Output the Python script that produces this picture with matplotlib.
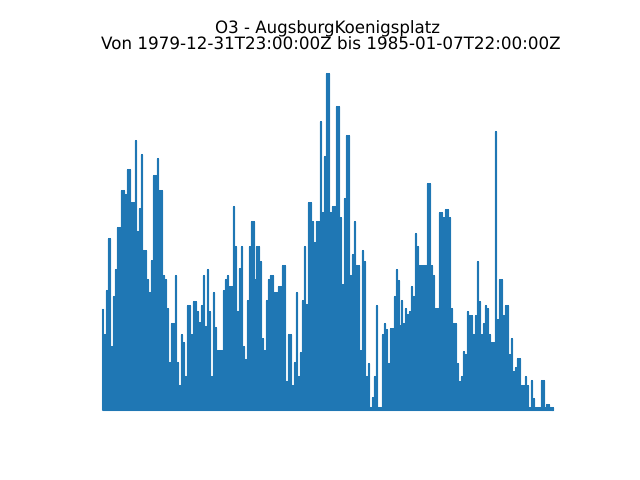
import numpy as np
import matplotlib
matplotlib.use('Agg')
import matplotlib.pyplot as plt

plt.rcParams['text.hinting'] = 'no_hinting'

# O3 peaks, one reading per about 8 days
peaks_1980 = [101, 76, 120, 172, 172, 64, 114, 141, 183, 183, 220, 220, 216, 241, 241, 208, 208, 270, 179,
              202, 256, 160, 160, 131, 118, 150, 235, 235, 252, 220, 220, 135, 131, 102, 48, 87, 87, 135,
              48, 24, 76, 68, 33, 105, 105, 76, 109, 109, 99, 88, 105, 135, 84, 141, 99, 33, 118]
peaks_1981 = [83, 60, 60, 60, 120, 131, 135, 124, 124, 204, 164, 99, 142, 164, 64, 51, 110, 164, 189, 189,
              131, 164, 164, 149, 72, 60, 110, 131, 135, 135, 118, 118, 124, 124, 145, 145, 28, 76, 76, 24,
              48, 118, 33, 58, 110, 164, 106, 208, 208, 189, 168, 189, 189, 289, 198, 254, 337, 337]
peaks_1983 = [198, 204, 204, 304, 304, 193, 126, 212, 275, 275, 135, 156, 189, 145, 145, 60, 160, 149, 33,
              47, 2, 12, 34, 105, 2, 2, 76, 87, 81, 47, 82, 82, 114, 141, 130, 85, 110, 87, 102, 96, 99,
              124, 114, 177, 164, 145, 145, 145, 145, 227, 227, 145, 135, 102, 102, 198, 198, 193]
peaks_1984 = [201, 201, 193, 102, 87, 87, 47, 28, 34, 59, 56, 99, 95, 95, 76, 95, 149, 109, 76, 87, 105,
              102, 76, 68, 68, 279, 91, 131, 131, 95, 105, 105, 56, 72, 39, 43, 52, 52, 24, 24, 33, 24, 2,
              29, 11, 2, 2, 2, 29, 29, 2, 5, 5, 2, 2]

o3 = np.array(peaks_1980 + peaks_1981 + peaks_1983 + peaks_1984, dtype=float)
days = np.linspace(0, 1834, len(o3))

# every peak drops back to the night minimum
x = np.repeat(days, 3)[:-1]
y = np.column_stack((o3, np.zeros(len(o3)), np.zeros(len(o3)))).ravel()[:-1]
x[2::3] = np.append(days[1:], days[-1])[:len(x[2::3])]

plt.figure(figsize=(6.4, 4.8), dpi=100)
plt.plot(x, y)
plt.axis('off')
# the two title lines are not centred on the same spot in the reference
plt.title('Von 1979-12-31T23:00:00Z bis 1985-01-07T22:00:00Z', x=0.506, fontsize=12.1)
plt.figtext(0.5117, 0.931, 'O3 - AugsburgKoenigsplatz', ha='center', fontsize=12)
plt.savefig('out.png')
